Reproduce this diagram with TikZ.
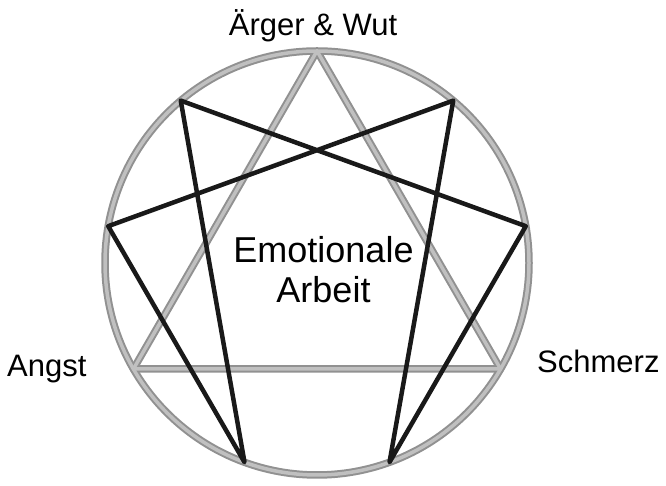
\documentclass[tikz,border=0pt]{standalone}
\usepackage{fontspec}
\setmainfont{Liberation Sans}
\usetikzlibrary{calc}
\definecolor{tubeedge}{RGB}{145,145,145}
\definecolor{tubemid}{RGB}{192,192,192}
\definecolor{hexline}{RGB}{25,25,25}
\begin{document}
\begin{tikzpicture}[x=1pt,y=1pt,
  tubeouter/.style={draw=tubeedge,line width=7.5pt,line join=round},
  tubeinner/.style={draw=tubemid,line width=3.5pt,line join=round},
  hexstroke/.style={draw=hexline,line width=4.5pt,line join=round,line cap=round},
  outerlabel/.style={inner sep=0pt,font=\fontsize{31}{37}\selectfont},
  centerlabel/.style={inner sep=0pt,align=center,font=\fontsize{36}{40}\selectfont}]
\useasboundingbox (0,0) rectangle (666,486);
\fill[white] (0,0) rectangle (666,486);
\coordinate (c) at (317,223);
\foreach \k in {0,...,8}{
  \coordinate (p\k) at ($(c)+({90-40*\k}:212pt)$);
}
% circle and triangle (gray tube)
\path[tubeouter] (c) circle[radius=212pt];
\path[tubeouter] (p0) -- (p3) -- (p6) -- cycle;
\path[tubeinner] (c) circle[radius=212pt];
\path[tubeinner] (p0) -- (p3) -- (p6) -- cycle;
% hexad
\path[hexstroke] (p1) -- (p4) -- (p2) -- (p8) -- (p5) -- (p7) -- cycle;
% labels
\node[outerlabel,anchor=base] (anger) at (313,450) {Ärger \& Wut};
\node[outerlabel,anchor=base west] (fear) at (7,109) {Angst};
\node[outerlabel,anchor=base west] (pain) at (537,113) {Schmerz};
\node[centerlabel,anchor=center] (work) at (323.5,216) {Emotionale\\Arbeit};
\end{tikzpicture}
\end{document}
